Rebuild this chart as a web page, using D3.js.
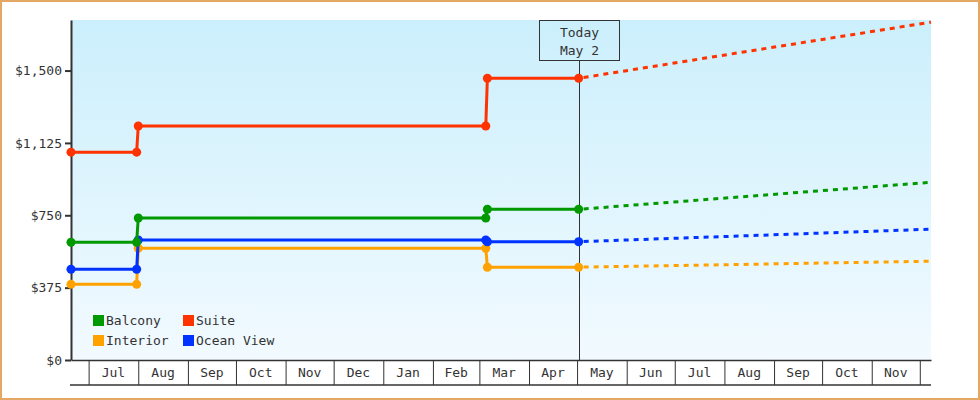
<!DOCTYPE html>
<meta charset="utf-8">
<style>
  body { margin: 0; background: #fff; }
  text { font-family: "DejaVu Sans Mono", monospace; font-size: 13px; fill: #333; }
</style>
<script src="https://d3js.org/d3.v7.min.js"></script>
<div id="chart"></div>
<script>

// price history (solid, with markers) and forecast (dashed)
var seriesNames = ["Balcony", "Suite", "Interior", "Ocean View"];
var seriesColors = ["#009900", "#ff3300", "#ffa200", "#0033ff"];
var historyDates = ["2023-06-20", "2023-07-31", "2023-08-01", "2024-03-05", "2024-03-06", "2024-05-02"];
var forecastDates = ["2024-05-02", "2024-12-08"];

var balcony   = [610, 610, 736, 736, 781, 781];
var suite     = [1077, 1077, 1213, 1213, 1460, 1460];
var interior  = [392, 392, 579, 579, 481, 481];
var oceanView = [470, 470, 622, 622, 613, 613];

var balconyForecast   = [781, 921];
var suiteForecast     = [1460, 1751];
var interiorForecast  = [481, 512];
var oceanViewForecast = [613, 678];

var yTicks = [0, 375, 750, 1125, 1500];
var todayLabel = ["Today", "May 2"];
var todayDate = "2024-05-02";

var pastValues = [balcony, suite, interior, oceanView];
var futureValues = [balconyForecast, suiteForecast, interiorForecast, oceanViewForecast];

var W = 980, H = 400;
var plotLeft = 71, plotRight = 931, plotTop = 20, plotBottom = 360;

var parse = d3.timeParse("%Y-%m-%d");

var svg = d3.select("#chart").append("svg")
    .attr("width", W)
    .attr("height", H);

// outer frame
svg.append("rect")
    .attr("x", 1).attr("y", 1)
    .attr("width", W - 2).attr("height", H - 2)
    .attr("fill", "#fff")
    .attr("stroke", "#e5a864")
    .attr("stroke-width", 2);

var grad = svg.append("defs").append("linearGradient")
    .attr("id", "bg").attr("x1", 0).attr("y1", 0).attr("x2", 0).attr("y2", 1);
grad.append("stop").attr("offset", "0%").attr("stop-color", "#cbeffc");
grad.append("stop").attr("offset", "100%").attr("stop-color", "#f2faff");

svg.append("rect")
    .attr("x", plotLeft).attr("y", plotTop)
    .attr("width", plotRight - plotLeft).attr("height", plotBottom - plotTop)
    .attr("fill", "url(#bg)");

var x = d3.scaleTime()
    .domain([parse("2023-06-20"), parse("2024-12-08")])
    .range([plotLeft, plotRight]);

var y = d3.scaleLinear()
    .domain([0, 1762])
    .range([plotBottom, plotTop]);

// x axis: month boxes
var months = d3.timeMonth.range(d3.timeMonth.ceil(x.domain()[0]), x.domain()[1]);
var xg = svg.append("g").attr("transform", "translate(0," + plotBottom + ")");
xg.call(d3.axisBottom(x).tickValues(months).tickSize(25).tickSizeOuter(0).tickFormat(""));
xg.selectAll(".tick line").attr("stroke", "#333");
xg.select(".domain").attr("stroke", "#333").attr("stroke-width", 1.5);
xg.append("line")
    .attr("x1", plotLeft - 1).attr("x2", plotRight)
    .attr("y1", 25).attr("y2", 25)
    .attr("stroke", "#333").attr("stroke-width", 1.5);

var fullMonths = months.filter(function(m) { return d3.timeMonth.offset(m, 1) <= x.domain()[1]; });
xg.selectAll(".mlabel")
  .data(fullMonths)
  .enter().append("text")
    .attr("class", "mlabel")
    .attr("x", function(d) { return (x(d) + x(d3.timeMonth.offset(d, 1))) / 2; })
    .attr("y", 17)
    .attr("text-anchor", "middle")
    .text(d3.timeFormat("%b"));

// y axis
var yg = svg.append("g").attr("transform", "translate(" + plotLeft + ",0)");
yg.call(d3.axisLeft(y).tickValues(yTicks).tickSize(6).tickSizeOuter(0).tickFormat(d3.format("$,")));
yg.selectAll(".tick line").attr("stroke", "#333").attr("stroke-width", 2);
yg.selectAll(".tick text").attr("x", -9).style("font-family", "DejaVu Sans Mono, monospace").style("font-size", "13px").attr("fill", "#333");
yg.select(".domain").attr("stroke", "#333").attr("stroke-width", 2);

// today marker
var tx = Math.round(x(parse(todayDate)));
svg.append("line")
    .attr("x1", tx + 0.5).attr("x2", tx + 0.5)
    .attr("y1", 60).attr("y2", plotBottom)
    .attr("stroke", "#333").attr("stroke-width", 1);
svg.append("rect")
    .attr("x", tx - 39.5).attr("y", 20.5)
    .attr("width", 80).attr("height", 40)
    .attr("fill", "none")
    .attr("stroke", "#333");
svg.selectAll(".today")
  .data(todayLabel)
  .enter().append("text")
    .attr("x", tx + 0.5)
    .attr("y", function(d, i) { return 37 + i * 18; })
    .attr("text-anchor", "middle")
    .text(function(d) { return d; });

var line = d3.line()
    .x(function(d) { return x(d.date); })
    .y(function(d) { return y(d.value); });

var marker = d3.symbol().type(d3.symbolCircle).size(64);

// draw order: interior, ocean view, balcony, suite
[2, 3, 0, 1].forEach(function(i) {
  var hist = historyDates.map(function(d, k) { return { date: parse(d), value: pastValues[i][k] }; });
  var fc = forecastDates.map(function(d, k) { return { date: parse(d), value: futureValues[i][k] }; });

  svg.append("path")
      .datum(fc)
      .attr("d", line)
      .attr("fill", "none")
      .attr("stroke", seriesColors[i])
      .attr("stroke-width", 3)
      .attr("stroke-dasharray", "5,5")
      .attr("stroke-dashoffset", -5);

  svg.append("path")
      .datum(hist)
      .attr("d", line)
      .attr("fill", "none")
      .attr("stroke", seriesColors[i])
      .attr("stroke-width", 3);

  svg.selectAll(".m" + i)
    .data(hist)
    .enter().append("path")
      .attr("class", "m" + i)
      .attr("d", marker)
      .attr("transform", function(d) { return "translate(" + x(d.date) + "," + y(d.value) + ")"; })
      .attr("fill", seriesColors[i]);
});

// legend
var legend = svg.append("g");
seriesNames.forEach(function(name, i) {
  var lx = 93 + (i % 2) * 90, ly = 315 + Math.floor(i / 2) * 20;
  legend.append("rect")
      .attr("x", lx).attr("y", ly)
      .attr("width", 11).attr("height", 11)
      .attr("fill", seriesColors[i]);
  legend.append("text")
      .attr("x", lx + 13).attr("y", ly + 10)
      .text(name);
});

</script>
